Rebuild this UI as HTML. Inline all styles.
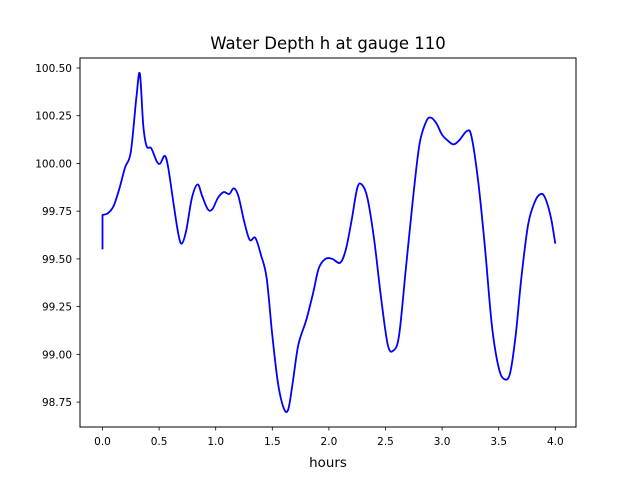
<!DOCTYPE html>
<html><head><meta charset="utf-8"><style>
body{margin:0;background:#fff;}
svg text{font-family:"DejaVu Sans","Liberation Sans",sans-serif;fill:#000;}
</style></head><body>
<svg id="chart" width="640" height="480" xmlns="http://www.w3.org/2000/svg">
<rect width="640" height="480" fill="#fff"/>
<text x="328" y="49" font-size="16.5" text-anchor="middle">Water Depth h at gauge 110</text>
<g id="plot"></g>
<rect x="80" y="58" width="496" height="369" fill="none" stroke="#000" stroke-width="1"/>
<text x="328" y="467" font-size="13.4" text-anchor="middle">hours</text>
</svg>
<script>
const xs = [0,0,0.05,0.1,0.15,0.2,0.25,0.3,0.33,0.36,0.39,0.43,0.48,0.51,0.55,0.58,0.63,0.67,0.7,0.74,0.79,0.84,0.88,0.93,0.97,1.02,1.07,1.12,1.16,1.2,1.25,1.3,1.35,1.4,1.45,1.5,1.55,1.6,1.64,1.68,1.73,1.8,1.86,1.91,1.97,2.03,2.1,2.15,2.2,2.25,2.29,2.34,2.4,2.46,2.52,2.57,2.62,2.68,2.74,2.8,2.86,2.9,2.95,3.0,3.05,3.1,3.15,3.22,3.26,3.32,3.38,3.44,3.5,3.55,3.6,3.65,3.7,3.76,3.82,3.87,3.91,3.96,4.0];
const ys = [99.55,99.73,99.74,99.78,99.87,99.98,100.06,100.35,100.47,100.2,100.09,100.08,100.01,100.0,100.04,99.98,99.78,99.63,99.58,99.65,99.82,99.89,99.83,99.76,99.76,99.82,99.85,99.84,99.87,99.83,99.7,99.6,99.61,99.52,99.4,99.1,98.85,98.72,98.71,98.85,99.05,99.18,99.32,99.45,99.5,99.5,99.48,99.55,99.7,99.87,99.89,99.82,99.6,99.3,99.05,99.02,99.1,99.45,99.8,100.1,100.22,100.24,100.21,100.15,100.12,100.1,100.12,100.17,100.14,99.9,99.55,99.15,98.93,98.87,98.9,99.1,99.4,99.68,99.8,99.84,99.82,99.72,99.58];
const xTicks = [0,0.5,1,1.5,2,2.5,3,3.5,4];
const xTickLabels = ["0.0","0.5","1.0","1.5","2.0","2.5","3.0","3.5","4.0"];
const yTicks = [98.75,99,99.25,99.5,99.75,100,100.25,100.5];
const yTickLabels = ["98.75","99.00","99.25","99.50","99.75","100.00","100.25","100.50"];

const X = v => 102.5 + v*113.2;
const Y = v => 68 + (100.5 - v)*190.9;
const NS = "http://www.w3.org/2000/svg";
const g = document.getElementById('plot');
function mk(t, a){const e=document.createElementNS(NS,t);for(const k in a)e.setAttribute(k,a[k]);g.appendChild(e);return e;}

xTicks.forEach((v,i)=>{
  const l=mk('line',{x1:X(v),x2:X(v),y1:427,y2:430.5,stroke:'#000','stroke-width':0.8});
  
  
  const t=mk('text',{x:X(v),y:445,'font-size':10.5,'text-anchor':'middle'});
  t.textContent=xTickLabels[i];
  
  
});
yTicks.forEach((v,i)=>{
  const l=mk('line',{x1:76.5,x2:80,y1:Y(v),y2:Y(v),stroke:'#000','stroke-width':0.8});
  
  
  const t=mk('text',{x:72,y:Y(v)+4,'font-size':10.5,'text-anchor':'end'});
  t.textContent=yTickLabels[i];
  
  
});

const P = xs.map((x,i)=>[X(x),Y(ys[i])]);
let d = 'M'+P[0][0]+','+P[0][1]+' L'+P[1][0]+','+P[1][1];
for(let i=1;i<P.length-1;i++){
  const p0=P[Math.max(1,i-1)],p1=P[i],p2=P[i+1],p3=P[Math.min(P.length-1,i+2)];
  const c1=[p1[0]+(p2[0]-p0[0])/6,p1[1]+(p2[1]-p0[1])/6];
  const c2=[p2[0]-(p3[0]-p1[0])/6,p2[1]-(p3[1]-p1[1])/6];
  d+=' C'+c1[0]+','+c1[1]+' '+c2[0]+','+c2[1]+' '+p2[0]+','+p2[1];
}
const line=mk('path',{d:d,fill:'none',stroke:'#0000ff','stroke-width':1.8,'stroke-linejoin':'round'});


</script>
</body></html>
